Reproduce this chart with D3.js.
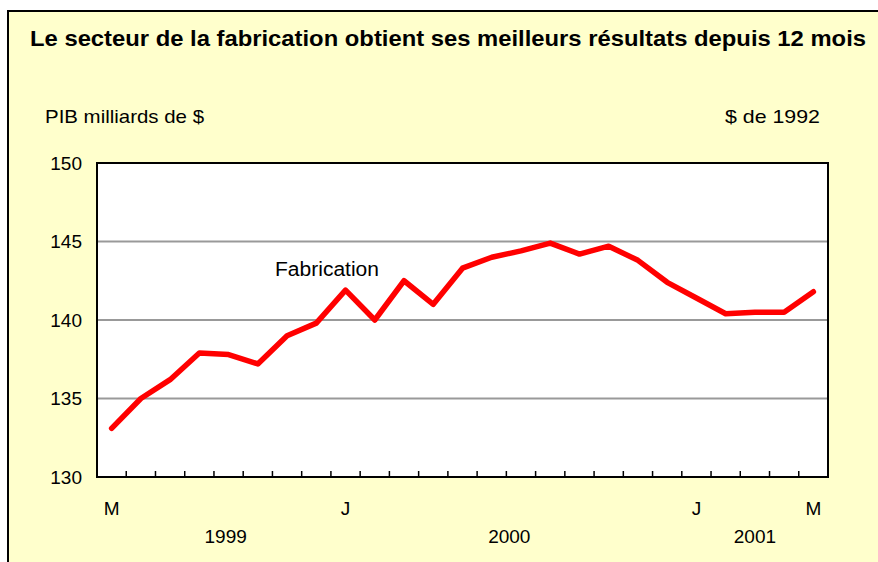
<!DOCTYPE html>
<html>
<head>
<meta charset="utf-8">
<script src="https://cdn.jsdelivr.net/npm/d3@7"></script>
<style>
  html, body { margin: 0; padding: 0; background: #ffffff; }
  svg { display: block; font-family: "Liberation Sans", Arial, sans-serif; }
</style>
</head>
<body>
<script>
// ---- Data ----
const months = ["M","J","J","A","S","O","N","D","J","F","M","A","M","J","J","A","S","O","N","D","J","F","M","A","M"];
const fabrication = [133.1, 135.0, 136.2, 137.9, 137.8, 137.2, 139.0, 139.8, 141.9, 140.0, 142.5, 141.0, 143.3, 144.0, 144.4, 144.9, 144.2, 144.7, 143.8, 142.4, 141.4, 140.4, 140.5, 140.5, 141.8];
const monthLabels = [{i: 0, t: "M"}, {i: 8, t: "J"}, {i: 20, t: "J"}, {i: 24, t: "M"}];
const yearLabels = [{i: 3.9, t: "1999"}, {i: 13.6, t: "2000"}, {i: 22.0, t: "2001"}];
const yTicks = [130, 135, 140, 145, 150];
const gridValues = [135, 140, 145];
const title = "Le secteur de la fabrication obtient ses meilleurs résultats depuis 12 mois";

// ---- Layout ----
const W = 878, H = 562;
const plot = {left: 97, right: 828, top: 163, bottom: 477};

const svg = d3.select("body").append("svg").attr("width", W).attr("height", H);

// outer frame
svg.append("rect").attr("x", 8).attr("y", 11).attr("width", W + 10).attr("height", H + 10)
  .attr("fill", "#ffffcc").attr("stroke", "#000").attr("stroke-width", 2);

svg.append("text").attr("x", 30).attr("y", 46)
  .attr("font-size", 22.5).attr("font-weight", "bold").attr("fill", "#000")
  .attr("textLength", 836).attr("lengthAdjust", "spacingAndGlyphs")
  .text(title);

svg.append("text").attr("x", 45).attr("y", 122.5).attr("font-size", 19)
  .attr("textLength", 159).attr("lengthAdjust", "spacingAndGlyphs")
  .text("PIB milliards de $");
svg.append("text").attr("x", 725).attr("y", 122.5).attr("font-size", 19)
  .attr("textLength", 95).attr("lengthAdjust", "spacingAndGlyphs")
  .text("$ de 1992");

// scales
const x = d3.scaleBand().domain(d3.range(months.length)).range([plot.left, plot.right]).padding(0);
const y = d3.scaleLinear().domain([130, 150]).range([plot.bottom, plot.top]);
const cx = i => x(Math.floor(i)) + x.bandwidth() / 2 + (i - Math.floor(i)) * x.bandwidth();

// plot area
svg.append("rect").attr("x", plot.left).attr("y", plot.top)
  .attr("width", plot.right - plot.left).attr("height", plot.bottom - plot.top)
  .attr("fill", "#ffffff");

svg.append("g").selectAll("line").data(gridValues).join("line")
  .attr("x1", plot.left).attr("x2", plot.right)
  .attr("y1", d => y(d)).attr("y2", d => y(d))
  .attr("stroke", "#999999").attr("stroke-width", 2);

// category ticks (between categories)
svg.append("g").selectAll("line").data(d3.range(1, months.length)).join("line")
  .attr("x1", d => x(d)).attr("x2", d => x(d))
  .attr("y1", plot.bottom).attr("y2", plot.bottom - 6)
  .attr("stroke", "#000").attr("stroke-width", 1.5);

svg.append("rect").attr("x", plot.left).attr("y", plot.top)
  .attr("width", plot.right - plot.left).attr("height", plot.bottom - plot.top)
  .attr("fill", "none").attr("stroke", "#000").attr("stroke-width", 2);

// y labels
svg.append("g").selectAll("text").data(yTicks).join("text")
  .attr("x", 82).attr("y", d => y(d)).attr("dy", "0.35em")
  .attr("text-anchor", "end").attr("font-size", 19).attr("fill", "#000")
  .text(d => d);

// x labels
svg.append("g").selectAll("text").data(monthLabels).join("text")
  .attr("x", d => cx(d.i)).attr("y", 508).attr("dy", "0.35em")
  .attr("text-anchor", "middle").attr("font-size", 19).text(d => d.t);
svg.append("g").selectAll("text").data(yearLabels).join("text")
  .attr("x", d => cx(d.i)).attr("y", 536).attr("dy", "0.35em")
  .attr("text-anchor", "middle").attr("font-size", 19).text(d => d.t);

// line
const line = d3.line().x((d, i) => cx(i)).y(d => y(d));
svg.append("path").datum(fabrication).attr("d", line)
  .attr("fill", "none").attr("stroke", "#ff0000").attr("stroke-width", 5.5)
  .attr("stroke-linejoin", "round").attr("stroke-linecap", "round");

// series label
svg.append("text").attr("x", 275).attr("y", 276).attr("font-size", 20)
  .attr("textLength", 104).attr("lengthAdjust", "spacingAndGlyphs")
  .text("Fabrication");
</script>
</body>
</html>
